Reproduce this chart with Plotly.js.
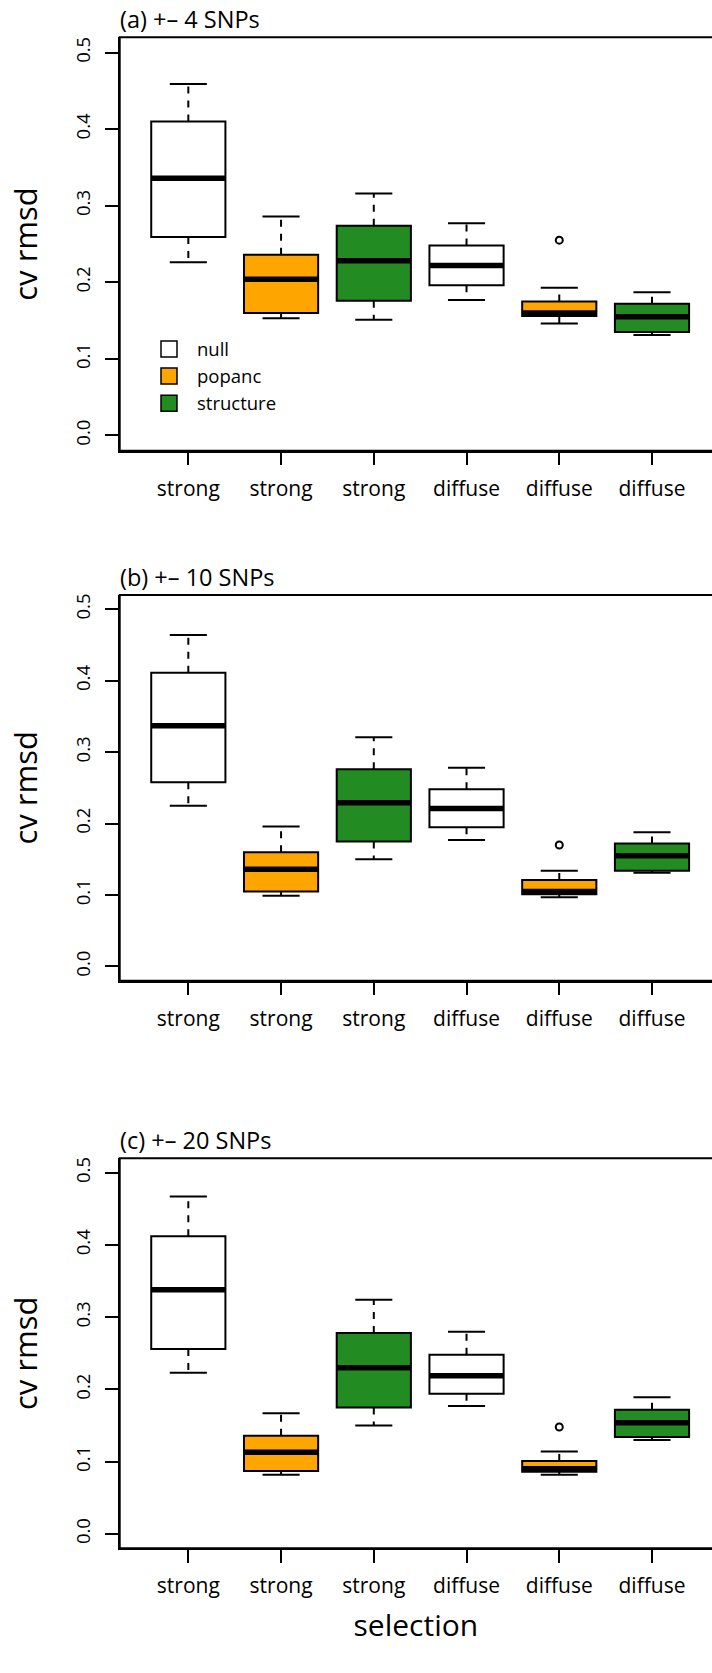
<!DOCTYPE html>
<html>
<head>
<meta charset="utf-8">
<script src="https://cdn.plot.ly/plotly-3.0.1.min.js"></script>
<style>html,body{margin:0;padding:0;background:#fff;}#chart{width:712px;height:1673px;}</style>
</head>
<body>
<div id="chart"></div>
<script>
// ---- data ----
const selection = ['strong', 'strong', 'strong', 'diffuse', 'diffuse', 'diffuse'];
const method = ['null', 'popanc', 'structure', 'null', 'popanc', 'structure'];
const methodNames = ['null', 'popanc', 'structure'];
const methodColors = ['#FFFFFF', '#FFA500', '#228B22'];
const panelTitles = ['(a) +\u2013 4 SNPs', '(b) +\u2013 10 SNPs', '(c) +\u2013 20 SNPs'];
const yTickVals = [0, 0.1, 0.2, 0.3, 0.4, 0.5];

// panel (a) +- 4 SNPs
const a_upper   = [0.459, 0.286, 0.316, 0.277, 0.193, 0.187];
const a_q3      = [0.410, 0.236, 0.274, 0.248, 0.175, 0.172];
const a_median  = [0.336, 0.204, 0.228, 0.222, 0.160, 0.155];
const a_q1      = [0.259, 0.160, 0.176, 0.196, 0.156, 0.135];
const a_lower   = [0.226, 0.153, 0.151, 0.177, 0.146, 0.131];
const a_outlier = [null, null, null, null, 0.255, null];

// panel (b) +- 10 SNPs
const b_upper   = [0.464, 0.196, 0.321, 0.278, 0.134, 0.188];
const b_q3      = [0.411, 0.160, 0.276, 0.248, 0.121, 0.172];
const b_median  = [0.337, 0.136, 0.229, 0.221, 0.105, 0.155];
const b_q1      = [0.258, 0.105, 0.175, 0.195, 0.101, 0.134];
const b_lower   = [0.225, 0.099, 0.150, 0.177, 0.097, 0.131];
const b_outlier = [null, null, null, null, 0.170, null];

// panel (c) +- 20 SNPs
const c_upper   = [0.467, 0.167, 0.324, 0.280, 0.114, 0.189];
const c_q3      = [0.412, 0.136, 0.278, 0.248, 0.101, 0.172];
const c_median  = [0.338, 0.113, 0.230, 0.219, 0.090, 0.154];
const c_q1      = [0.256, 0.087, 0.175, 0.194, 0.086, 0.134];
const c_lower   = [0.223, 0.082, 0.150, 0.177, 0.082, 0.130];
const c_outlier = [null, null, null, null, 0.148, null];

const panels = [
  {upper: a_upper, q3: a_q3, median: a_median, q1: a_q1, lower: a_lower, outlier: a_outlier},
  {upper: b_upper, q3: b_q3, median: b_median, q1: b_q1, lower: b_lower, outlier: b_outlier},
  {upper: c_upper, q3: c_q3, median: c_median, q1: c_q1, lower: c_lower, outlier: c_outlier}
];

// ---- layout geometry (pixels of the 712x1673 page) ----
const W = 712, H = 1673;
const FONT = 'Open Sans, Noto Sans, DejaVu Sans, sans-serif';
const plotLeft = 119.7;
const frames = [[37.3, 450.7], [595, 980.7], [1158.3, 1548.3]]; // top, bottom
const BOXW = 0.8, CAPW = 0.4;

const traces = [];
const layout = {
  width: W, height: H,
  margin: {l: 0, r: 0, t: 0, b: 0},
  paper_bgcolor: '#fff', plot_bgcolor: '#fff',
  showlegend: true,
  hovermode: false,
  font: {family: FONT, color: '#000'},
  legend: {
    x: 141 / W, y: 1 - 330.5 / H, xanchor: 'left', yanchor: 'top',
    font: {family: FONT, size: 18.5, color: '#000'},
    bgcolor: 'rgba(0,0,0,0)', borderwidth: 0, itemwidth: 46,
    tracegroupgap: 0, itemclick: false
  },
  shapes: [],
  annotations: []
};

const xs = selection.map((_, i) => i + 1);

panels.forEach((p, k) => {
  const n = k === 0 ? '' : String(k + 1);
  const xa = 'x' + n, ya = 'y' + n;
  const [top, bot] = frames[k];

  // box bodies, one trace per method
  methodNames.forEach((m, mi) => {
    const idx = method.map((v, i) => v === m ? i : -1).filter(i => i >= 0);
    traces.push({
      type: 'box', xaxis: xa, yaxis: ya, name: m, showlegend: false,
      x: idx.map(i => xs[i]),
      q1: idx.map(i => p.q1[i]),
      median: idx.map(i => p.median[i]),
      q3: idx.map(i => p.q3[i]),
      lowerfence: idx.map(i => p.q1[i]),
      upperfence: idx.map(i => p.q3[i]),
      width: BOXW, whiskerwidth: 0, boxpoints: false,
      fillcolor: methodColors[mi],
      line: {color: '#000', width: 2},
      hoverinfo: 'skip'
    });
  });

  // dashed whiskers (from box out to the cap)
  const wx = [], wy = [];
  xs.forEach((x, i) => {
    wx.push(x, x, null, x, x, null);
    wy.push(p.q3[i], p.upper[i], null, p.q1[i], p.lower[i], null);
  });
  traces.push({type: 'scatter', mode: 'lines', xaxis: xa, yaxis: ya, showlegend: false,
    x: wx, y: wy, line: {color: '#000', width: 2, dash: '7px,7px'}, hoverinfo: 'skip'});

  // whisker caps
  const cx = [], cy = [];
  xs.forEach((x, i) => {
    cx.push(x - CAPW / 2, x + CAPW / 2, null, x - CAPW / 2, x + CAPW / 2, null);
    cy.push(p.upper[i], p.upper[i], null, p.lower[i], p.lower[i], null);
  });
  traces.push({type: 'scatter', mode: 'lines', xaxis: xa, yaxis: ya, showlegend: false,
    x: cx, y: cy, line: {color: '#000', width: 2}, hoverinfo: 'skip'});

  // thick medians
  const mx = [], my = [];
  xs.forEach((x, i) => {
    mx.push(x - BOXW / 2, x + BOXW / 2, null);
    my.push(p.median[i], p.median[i], null);
  });
  traces.push({type: 'scatter', mode: 'lines', xaxis: xa, yaxis: ya, showlegend: false,
    x: mx, y: my, line: {color: '#000', width: 5.5}, hoverinfo: 'skip'});

  // outliers
  traces.push({type: 'scatter', mode: 'markers', xaxis: xa, yaxis: ya, showlegend: false,
    x: xs, y: p.outlier,
    marker: {symbol: 'circle-open', size: 7, color: '#000', line: {width: 2, color: '#000'}},
    hoverinfo: 'skip'});

  layout['xaxis' + n] = {
    domain: [plotLeft / W, 1], anchor: ya,
    range: [0.26, 6.647],
    tickmode: 'array', tickvals: xs, ticktext: selection,
    ticks: 'outside', ticklen: 12.7, tickwidth: 2, tickcolor: '#000',
    showline: true, linewidth: 2, linecolor: '#000',
    showgrid: false, zeroline: false, fixedrange: true,
    tickfont: {family: FONT, size: 21, color: '#000'},
    ticklabelstandoff: 5
  };
  if (k === 2) {
    layout['xaxis' + n].title = {text: 'selection', font: {family: FONT, size: 30, color: '#000'}, standoff: 17};
  }
  layout['yaxis' + n] = {
    domain: [1 - bot / H, 1 - top / H], anchor: xa,
    range: [-0.02, 0.52],
    tickmode: 'array', tickvals: yTickVals, ticktext: yTickVals.map(v => v.toFixed(1)),
    tickangle: -90,
    ticks: 'outside', ticklen: 12.7, tickwidth: 2, tickcolor: '#000',
    showline: true, linewidth: 2, linecolor: '#000',
    showgrid: false, zeroline: false, fixedrange: true,
    tickfont: {family: FONT, size: 18.5, color: '#000'},
    ticklabelstandoff: 8,
    title: {text: 'cv rmsd', font: {family: FONT, size: 31, color: '#000'}, standoff: 23}
  };

  // full frame (right side falls outside the cropped picture)
  layout.shapes.push({type: 'rect', xref: 'paper', yref: ya + ' domain',
    x0: plotLeft / W, x1: 1.03, y0: 0, y1: 1, line: {color: '#000', width: 2}, layer: 'above'});

  // panel title
  layout.annotations.push({text: panelTitles[k], xref: 'paper', yref: ya + ' domain',
    x: 118 / W, y: 1, xanchor: 'left', yanchor: 'bottom', yshift: 0, showarrow: false,
    font: {family: FONT, size: 23.5, color: '#000'}});
});

// legend entries
methodNames.forEach((m, mi) => {
  traces.push({type: 'scatter', mode: 'markers', x: [null], y: [null], name: m,
    xaxis: 'x', yaxis: 'y', showlegend: true,
    marker: {symbol: 'square', size: 16, color: methodColors[mi], line: {color: '#000', width: 1.5}}});
});

Plotly.newPlot('chart', traces, layout, {displayModeBar: false, staticPlot: true});
</script>
</body>
</html>
